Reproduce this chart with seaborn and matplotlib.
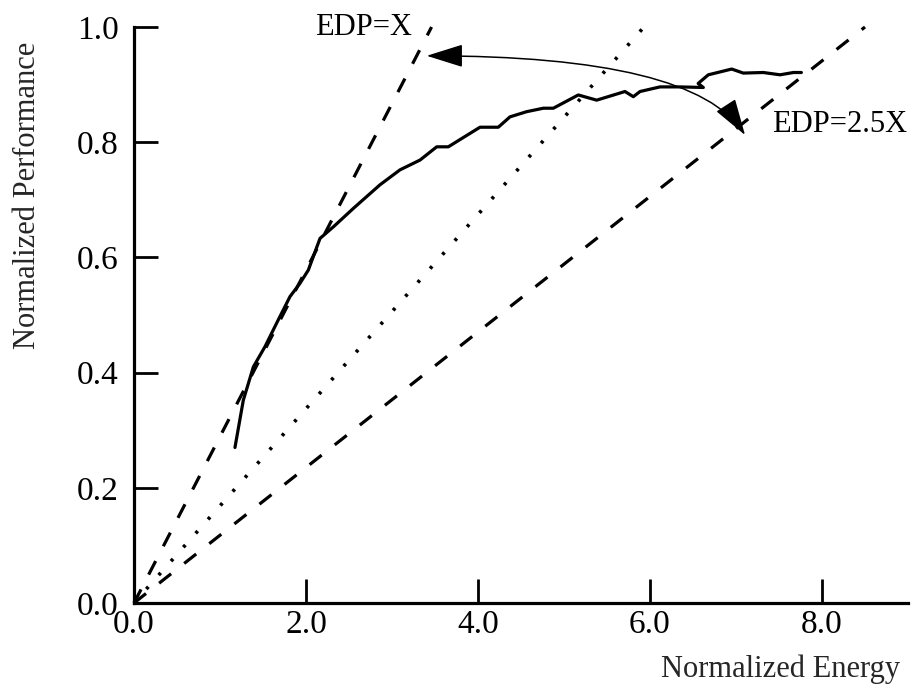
import numpy as np
import pandas as pd
import seaborn as sns
import matplotlib.pyplot as plt

# ---- data ----
energy = [1.174, 1.271, 1.388, 1.523, 1.659, 1.814, 1.93, 2.027, 2.163, 2.318,
          2.55, 2.86, 3.093, 3.326, 3.52, 3.655, 4.023, 4.236, 4.372, 4.566,
          4.76, 4.876, 5.166, 5.38, 5.709, 5.806, 5.884, 6.116, 6.349, 6.62,
          6.56, 6.678, 6.95, 7.085, 7.318, 7.512, 7.667, 7.76]
performance = [0.270, 0.352, 0.410, 0.445, 0.486, 0.532, 0.555, 0.578, 0.633, 0.653,
               0.685, 0.726, 0.752, 0.769, 0.792, 0.792, 0.826, 0.826, 0.844, 0.853,
               0.859, 0.859, 0.882, 0.873, 0.888, 0.879, 0.888, 0.896, 0.896, 0.895,
               0.902, 0.917, 0.927, 0.920, 0.921, 0.917, 0.921, 0.921]

edp_x_energy = [0.0, 3.46]
edp_x_perf = [0.0, 1.0]
edp_mid_energy = [0.0, 5.93]
edp_mid_perf = [0.0, 1.0]
edp_25x_energy = [0.0, 8.5]
edp_25x_perf = [0.0, 1.0]

x_ticks = [0.0, 2.0, 4.0, 6.0, 8.0]
x_tick_labels = ["0.0", "2.0", "4.0", "6.0", "8.0"]
y_ticks = [0.0, 0.2, 0.4, 0.6, 0.8, 1.0]
y_tick_labels = ["0.0", "0.2", "0.4", "0.6", "0.8", "1.0"]

arrow_left = (3.403, 0.95)
arrow_right = (7.105, 0.8125)
label_edp_x = (2.105, 0.986)
label_edp_25x = (7.42, 0.818)

# ---- style ----
sns.set_style("ticks")
plt.rcParams["font.family"] = ["Liberation Serif", "DejaVu Serif"]
plt.rcParams["lines.scale_dashes"] = False

fig = plt.figure(figsize=(9.11, 6.88), dpi=100)
ax = fig.add_axes([134 / 911, 85 / 688, 774 / 911, 576 / 688])

lw = 2.3
sns.lineplot(x=energy, y=performance, sort=False, estimator=None, color="black",
             linewidth=lw, ax=ax, clip_on=False)
sns.lineplot(x=edp_x_energy, y=edp_x_perf, sort=False, estimator=None, color="black",
             linewidth=lw, linestyle=(0, (11, 12)), ax=ax, clip_on=False)
sns.lineplot(x=edp_mid_energy, y=edp_mid_perf, sort=False, estimator=None, color="black",
             linewidth=2.6, linestyle=(0, (2.2, 11.2)), ax=ax, clip_on=False)
sns.lineplot(x=edp_25x_energy, y=edp_25x_perf, sort=False, estimator=None, color="black",
             linewidth=lw, linestyle=(0, (11, 12)), ax=ax, clip_on=False)

ax.annotate("", xy=arrow_left, xytext=arrow_right,
            arrowprops=dict(arrowstyle="<|-|>,head_length=1.15,head_width=0.36",
                            mutation_scale=20,
                            connectionstyle="angle3,angleA=-57,angleB=0",
                            color="black", lw=1.1, shrinkA=0, shrinkB=0))

ax.text(*label_edp_x, "EDP=X", fontsize=22, ha="left", va="baseline", color="black")
ax.text(*label_edp_25x, "EDP=2.5X", fontsize=22, ha="left", va="baseline", color="black",
        clip_on=False)

ax.set_xlim(0, 9.0)
ax.set_ylim(0, 1.0)
ax.set_xticks(x_ticks)
ax.set_xticklabels(x_tick_labels)
ax.set_yticks(y_ticks)
ax.set_yticklabels(y_tick_labels)

ax.tick_params(direction="in", length=17, width=2, labelsize=24, colors="black",
               bottom=True, left=True, top=False, right=False)
ax.tick_params(axis="y", pad=11)
ax.tick_params(axis="x", pad=5)

for side in ["top", "right"]:
    ax.spines[side].set_visible(False)
for side in ["left", "bottom"]:
    ax.spines[side].set_linewidth(lw)
    ax.spines[side].set_color("black")

ax.set_xlabel("Normalized Energy", fontsize=22, ha="right", va="baseline")
ax.xaxis.set_label_coords((900 - 134) / 774, (603 - 677) / 576)
ax.set_ylabel("Normalized Performance", fontsize=22, ha="center", va="center")
ax.yaxis.set_label_coords((27 - 134) / 774, (603 - 195) / 576)

fig.savefig("out.png", dpi=100)
